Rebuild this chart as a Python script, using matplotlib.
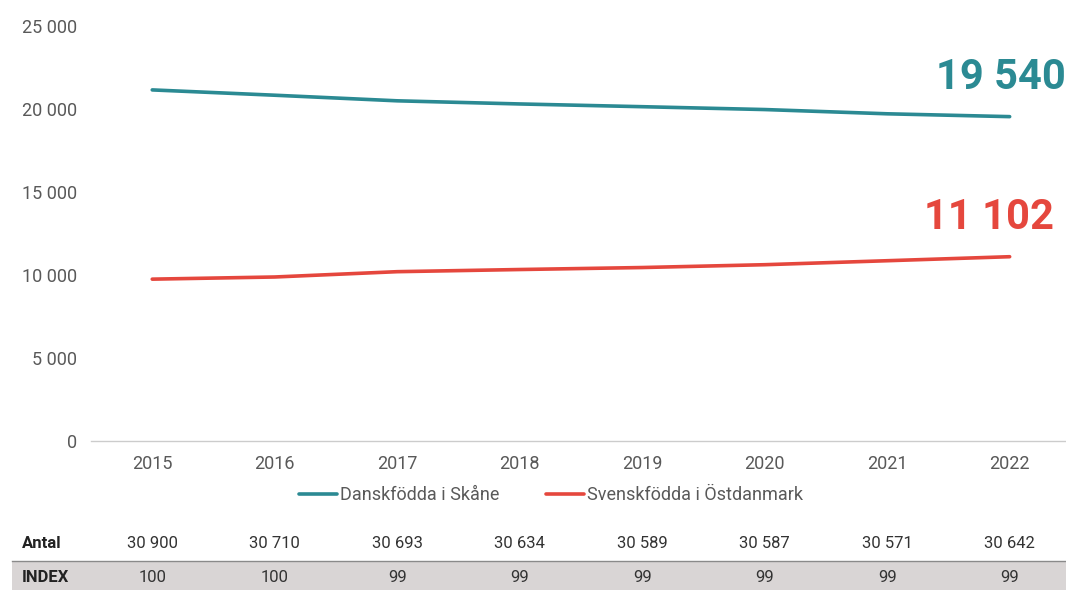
import matplotlib
matplotlib.use("Agg")
import matplotlib.pyplot as plt
from matplotlib.patches import Rectangle
from matplotlib.transforms import blended_transform_factory

# ----------------------------
# Data
# ----------------------------
years = ["2015", "2016", "2017", "2018", "2019", "2020", "2021", "2022"]
antal = [30900, 30710, 30693, 30634, 30589, 30587, 30571, 30642]
index = [100, 100, 99, 99, 99, 99, 99, 99]
svenskfodda = [9750, 9880, 10200, 10330, 10450, 10620, 10860, 11102]
danskfodda = [a - s for a, s in zip(antal, svenskfodda)]

label_dk = "Danskfödda i Skåne"
label_se = "Svenskfödda i Östdanmark"

TEAL = "#2b8a93"
RED = "#e5473d"
GREY_TXT = "#595959"


def fmt(v):
    return f"{v:,}".replace(",", " ")


plt.rcParams["font.family"] = ["Roboto", "DejaVu Sans"]

fig = plt.figure(figsize=(10.66, 5.9), dpi=100)
ax = fig.add_axes([91 / 1066, 1 - 441 / 590, 1 - 91 / 1066, (441 - 26) / 590])

x = list(range(len(years)))
ax.plot(x, danskfodda, color=TEAL, lw=2.6, solid_capstyle="round", label=label_dk)
ax.plot(x, svenskfodda, color=RED, lw=2.6, solid_capstyle="round", label=label_se)

ax.set_ylim(0, 25000)
ax.set_xlim(-0.5, 7.46)
ax.set_yticks(range(0, 25001, 5000))
ax.set_yticklabels([fmt(v) for v in range(0, 25001, 5000)])
ax.set_xticks(x)
ax.set_xticklabels(years)
ax.tick_params(axis="both", length=0, labelsize=13, colors=GREY_TXT)
ax.tick_params(axis="y", pad=10)
ax.tick_params(axis="x", pad=10)
for s in ["top", "right", "left"]:
    ax.spines[s].set_visible(False)
ax.spines["bottom"].set_color("#cccccc")
ax.spines["bottom"].set_linewidth(1)

# end-value labels
ax.annotate(fmt(danskfodda[-1]), xy=(7, danskfodda[-1]), xytext=(56, 39),
            textcoords="offset pixels", ha="right", va="center",
            fontsize=30, fontweight="bold", color=TEAL)
ax.annotate(fmt(svenskfodda[-1]), xy=(7, svenskfodda[-1]), xytext=(44, 39),
            textcoords="offset pixels", ha="right", va="center",
            fontsize=30, fontweight="bold", color=RED)

fig.legend(loc="center", bbox_to_anchor=(551 / 1066, 1 - 495 / 590), ncol=2,
           frameon=False, handlelength=2.1, handletextpad=0.15, columnspacing=2.6,
           fontsize=13, labelcolor=GREY_TXT)

# ----------------------------
# Table below chart
# ----------------------------
fig.patches.append(Rectangle((12 / 1066, 0), 1, (590 - 561) / 590,
                             transform=fig.transFigure, facecolor="#d9d5d5",
                             edgecolor="none", zorder=0))
fig.lines.append(plt.Line2D([12 / 1066, 1], [(590 - 561) / 590] * 2,
                            transform=fig.transFigure, color="#8a8a8a", lw=1))

trans = blended_transform_factory(ax.transData, fig.transFigure)
y_antal = 1 - 544 / 590
y_index = 1 - 578 / 590
fig.text(22 / 1066, y_antal, "Antal", ha="left", va="center", fontsize=12,
         fontweight="bold", color="#222222")
fig.text(22 / 1066, y_index, "INDEX", ha="left", va="center", fontsize=12,
         fontweight="bold", color="#222222")
for i in x:
    fig.text(i, y_antal, fmt(antal[i]), transform=trans, ha="center", va="center",
             fontsize=12, color="#333333")
    fig.text(i, y_index, str(index[i]), transform=trans, ha="center", va="center",
             fontsize=12, color="#333333")

fig.savefig("out.png", dpi=100)
